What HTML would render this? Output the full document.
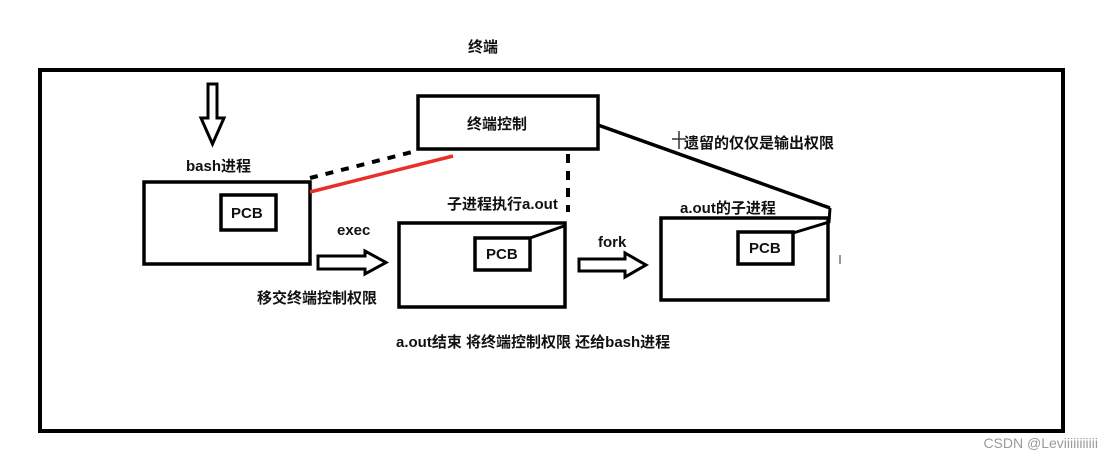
<!DOCTYPE html>
<html><head><meta charset="utf-8"><style>
html,body{margin:0;padding:0;background:#fff;}
svg{display:block;}
text{font-family:"Liberation Sans","Noto Sans CJK SC",sans-serif;font-weight:bold;font-size:15px;fill:#111;}
</style></head><body>
<svg width="1112" height="463" viewBox="0 0 1112 463" xmlns="http://www.w3.org/2000/svg">
<rect width="1112" height="463" fill="#fff"/>
<text x="468" y="52">终端</text>
<rect x="40" y="70" width="1023" height="361" fill="none" stroke="#000" stroke-width="4"/>
<!-- down arrow -->
<path d="M208,84 L217,84 L217,118 L224,118 L212.5,144 L201,118 L208,118 Z" fill="#fff" stroke="#000" stroke-width="3"/>
<text x="186" y="171">bash进程</text>
<rect x="144" y="182" width="166" height="82" fill="none" stroke="#000" stroke-width="3.5"/>
<rect x="221" y="195" width="55" height="35" fill="none" stroke="#000" stroke-width="3.5"/>
<text x="231" y="218">PCB</text>
<!-- terminal control -->
<rect x="418" y="96" width="180" height="53" fill="none" stroke="#000" stroke-width="3.5"/>
<text x="467" y="129">终端控制</text>
<line x1="310" y1="178" x2="416" y2="151" stroke="#000" stroke-width="4" stroke-dasharray="8,8"/>
<line x1="310" y1="192" x2="453" y2="156" stroke="#e8302a" stroke-width="3.5"/>
<line x1="568" y1="154" x2="568" y2="212" stroke="#000" stroke-width="4" stroke-dasharray="9,8"/>
<line x1="598" y1="125" x2="830" y2="208" stroke="#000" stroke-width="3.5"/>
<path d="M830,208 L829,222 L793,233" fill="none" stroke="#000" stroke-width="3"/>
<text x="684" y="148">遗留的仅仅是输出权限</text>
<line x1="672" y1="139" x2="686" y2="139" stroke="#333" stroke-width="1.5"/>
<line x1="679" y1="131" x2="679" y2="149" stroke="#333" stroke-width="1.5"/>
<!-- box2 -->
<text x="447" y="209">子进程执行a.out</text>
<rect x="399" y="223" width="166" height="84" fill="none" stroke="#000" stroke-width="3.5"/>
<rect x="475" y="238" width="55" height="32" fill="none" stroke="#000" stroke-width="3.5"/>
<text x="486" y="259">PCB</text>
<line x1="530" y1="238" x2="564" y2="226" stroke="#000" stroke-width="3"/>
<text x="337" y="235">exec</text>
<path d="M318,256 L365,256 L365,251 L386,262.5 L365,274 L365,269 L318,269 Z" fill="#fff" stroke="#000" stroke-width="3"/>
<text x="257" y="303">移交终端控制权限</text>
<text x="598" y="247">fork</text>
<path d="M579,259 L625,259 L625,253 L646,265 L625,277 L625,271 L579,271 Z" fill="#fff" stroke="#000" stroke-width="3"/>
<!-- box3 -->
<text x="680" y="213">a.out的子进程</text>
<rect x="661" y="218" width="167" height="82" fill="none" stroke="#000" stroke-width="3.5"/>
<rect x="738" y="232" width="55" height="32" fill="none" stroke="#000" stroke-width="3.5"/>
<text x="749" y="253">PCB</text>
<line x1="840" y1="255" x2="840" y2="264" stroke="#777" stroke-width="1.5"/>
<text x="396" y="347">a.out结束 将终端控制权限 还给bash进程</text>
<text x="1098" y="448" text-anchor="end" style="font-weight:normal;font-size:14px;fill:#9a9a9a">CSDN @Leviiiiiiiiiii</text>
</svg>
</body></html>
